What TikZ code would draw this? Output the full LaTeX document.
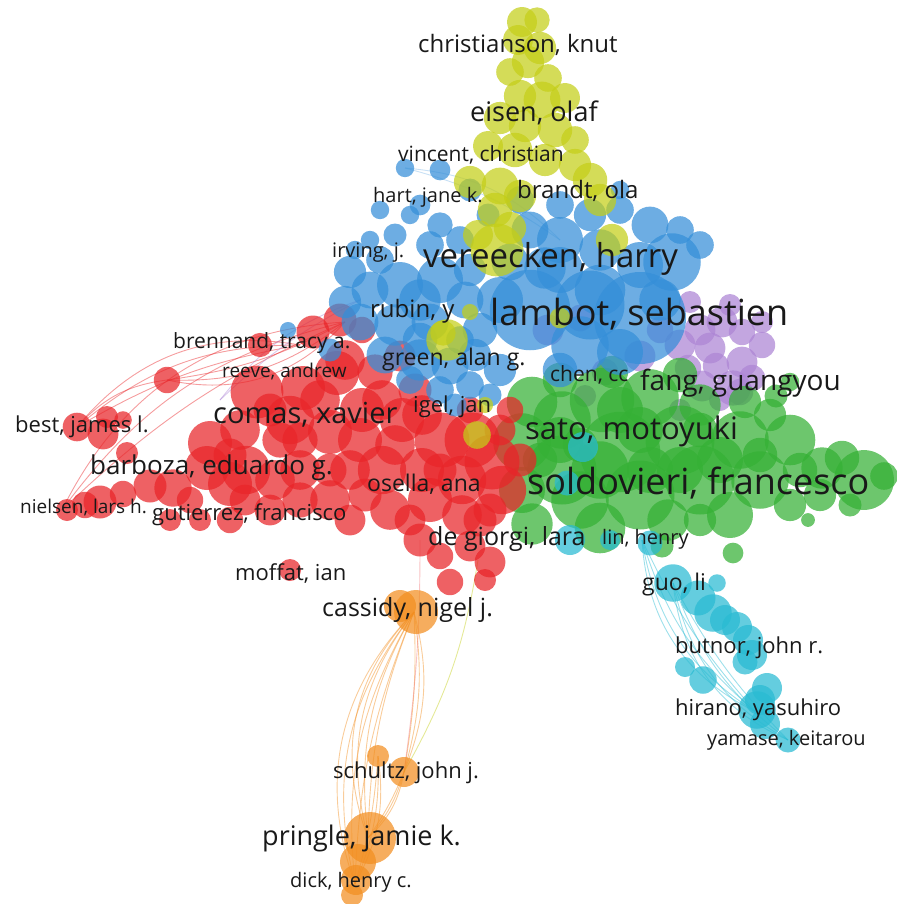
\documentclass[tikz,border=0pt]{standalone}
\usepackage{fontspec}
\setmainfont{Open Sans}
\usepackage{tikz}
\usetikzlibrary{positioning,calc}

\definecolor{vosred}{RGB}{232,36,40}
\definecolor{vosgreen}{RGB}{52,176,52}
\definecolor{vosblue}{RGB}{52,142,216}
\definecolor{vosyellow}{RGB}{196,206,24}
\definecolor{vospurple}{RGB}{172,132,212}
\definecolor{vosorange}{RGB}{242,142,32}
\definecolor{voscyan}{RGB}{40,186,210}

\begin{document}
\begin{tikzpicture}[
    x=1pt, y=-1pt,
    bub/.style={fill=#1, fill opacity=0.72},
    link/.style={draw=#1, draw opacity=0.45, line width=0.9pt},
    lbl/.style={anchor=west, inner sep=0pt, text=black!90, font=\fontsize{#1}{#1}\selectfont}
]
\useasboundingbox (0,0) rectangle (896,904);

% anchor points for the links
\coordinate (cassidyc) at (414,612);
\coordinate (schultzc) at (404,772);
\coordinate (schultzb) at (378,756);
\coordinate (pringlec) at (368,838);
\coordinate (dickc) at (355,884);
\coordinate (linc) at (642,540);
\coordinate (guoc) at (673,583);
\coordinate (hiranoc) at (756,712);
\coordinate (yamasec) at (788,740);
\coordinate (brennc) at (167,380);
\coordinate (bestc) at (77,427);
\coordinate (nielsc) at (62,510);
\coordinate (reevec) at (300,345);
\coordinate (redtop) at (345,322);
\coordinate (degc) at (420,540);
\coordinate (redlow) at (478,560);

% links
\foreach \b in {10,18,26,32} {
  \draw[link=vosorange] (cassidyc) to[bend right=\b] (pringlec);
  \draw[link=vosorange] (cassidyc) to[bend right=\b] (dickc);
}
\foreach \b in {6,12,18} {
  \draw[link=vosorange] (cassidyc) to[bend left=\b] (schultzc);
  \draw[link=vosorange] (schultzc) to[bend left=\b] (pringlec);
  \draw[link=vosorange] (schultzb) to[bend left=\b] (dickc);
}
\draw[link=vosred!60] (degc) to[bend left=4] (schultzc);
\draw[link=vosyellow] (redlow) to[bend left=10] (schultzc);
\foreach \b in {8,16,24,30} {
  \draw[link=voscyan] (linc) to[bend right=\b] (hiranoc);
  \draw[link=voscyan] (guoc) to[bend right=\b] (yamasec);
}
\foreach \b in {10,20,30} {
  \draw[link=vosred] (brennc) to[bend right=\b] (redtop);
  \draw[link=vosred] (bestc) to[bend left=\b] (reevec);
  \draw[link=vosred] (nielsc) to[bend left=\b] (redtop);
}
\draw[link=vosred] (brennc) to[bend right=20] (bestc);
\foreach \b in {8,16} \draw[link=vospurple] (220,400) to[bend left=\b] (360,300);
\foreach \b in {10,20} \draw[link=vosblue!60] (405,168) to[bend left=\b] (560,240);

% Purple cluster
\foreach \x/\y/\r [evaluate=\r as \rr using 1.1*\r] in {605/372/12, 640/356/14, 680/345/14,
  700/330/14, 722/322/14, 742/332/12, 762/322/10, 762/345/12, 742/362/14, 716/366/12,
  740/392/12, 702/386/14, 733/388/16, 690/302/10, 730/305/10, 585/396/10, 680/410/10,
  548/330/14, 580/318/12, 660/330/12, 710/348/14, 752/378/12, 720/400/10, 688/368/12}
  \fill[bub=vospurple] (\x,\y) circle (\rr pt);

% Green cluster
\foreach \x/\y/\r [evaluate=\r as \rr using 1.15*\r] in {532/402/22, 522/442/25, 562/420/25,
  602/400/28, 650/398/25, 700/405/18, 745/402/14, 770/415/14, 562/470/30, 620/452/35,
  680/440/30, 740/440/25, 790/440/22, 822/468/18, 864/480/26, 884/476/12, 842/458/15,
  700/480/30, 640/495/30, 760/480/25, 580/500/25, 522/490/20, 532/524/18, 600/528/22,
  668/520/18, 730/515/20, 790/505/14, 808/520/6, 733/553/9, 662/546/10, 790/382/8,
  776/396/10, 560/380/15, 612/372/14, 680/375/15, 820/495/14, 850/505/10, 700/520/14,
  560/440/20, 640/430/20, 720/460/20, 600/470/25, 680/470/20, 760/455/15, 800/470/15,
  540/460/15, 620/410/20, 700/430/15, 650/470/20, 580/445/15}
  \fill[bub=vosgreen] (\x,\y) circle (\rr pt);

% Red cluster
\foreach \x/\y/\r [evaluate=\r as \rr using 1.1*\r] in {167/380/12, 77/427/13, 107/417/10,
  103/434/14, 123/420/8, 127/453/10, 67/510/10, 100/502/15, 123/494/12, 150/486/15,
  173/488/17, 207/468/20, 210/443/20, 230/484/20, 246/470/22, 275/480/18, 300/470/18,
  240/430/18, 257/392/24, 303/388/20, 337/373/20, 260/345/11, 313/332/15, 340/320/15,
  362/330/12, 290/420/22, 330/432/20, 362/410/20, 382/400/18, 402/420/20, 422/415/18,
  442/440/25, 472/440/25, 492/462/25, 462/480/22, 502/490/22, 422/470/20, 382/470/22,
  350/470/18, 330/500/18, 300/500/16, 270/510/14, 350/520/14, 390/510/18, 430/500/20,
  462/515/18, 490/510/15, 420/540/15, 440/556/12, 470/546/14, 490/562/14, 450/582/12,
  290/570/10, 230/520/12, 200/520/10, 170/520/10, 345/360/18, 375/372/16, 400/356/14,
  415/390/15, 470/410/12, 500/430/14, 280/440/16, 190/500/12, 485/580/10, 320/400/18,
  360/440/20, 395/445/18, 270/410/15, 230/455/15, 300/440/16, 440/470/15, 480/520/15,
  410/520/14, 520/460/15, 365/495/15, 245/500/14, 330/470/15, 510/410/12, 85/505/12}
  \fill[bub=vosred] (\x,\y) circle (\rr pt);

% Cyan cluster
\foreach \x/\y/\r [evaluate=\r as \rr using 1.25*\r] in {583/447/12, 567/483/10, 570/540/12,
  650/543/10, 673/583/15, 698/598/14, 713/613/15, 737/627/12, 748/640/12, 752/655/12,
  767/688/12, 757/710/15, 765/724/12, 788/740/10, 685/667/8, 703/680/11, 717/583/7,
  610/540/8, 725/620/12, 760/700/12, 745/662/10}
  \fill[bub=voscyan] (\x,\y) circle (\rr pt);

% Blue cluster
\foreach \x/\y/\r [evaluate=\r as \rr using 1.15*\r] in {405/168/8, 440/170/9, 470/190/10,
  420/205/9, 440/225/11, 410/215/8, 395/235/10, 430/245/12, 460/240/12, 380/260/12,
  350/272/14, 370/290/16, 345/302/14, 400/285/20, 440/280/20, 465/300/16, 360/322/16,
  395/325/18, 430/322/16, 385/355/16, 420/360/18, 450/366/16, 475/355/14, 410/380/12,
  440/390/12, 470/385/12, 500/370/14, 455/405/10, 490/395/10, 560/205/12, 590/215/14,
  620/210/12, 650/225/16, 672/262/25, 640/265/20, 600/250/18, 560/240/20, 530/230/16,
  600/290/22, 530/310/35, 640/318/40, 590/305/30, 500/300/20, 620/352/20, 580/345/25,
  560/370/15, 700/245/12, 510/262/16, 545/268/18, 288/330/7, 330/350/10, 488/215/10,
  620/190/8, 480/330/15, 420/300/18, 470/270/14, 560/270/20, 520/200/12, 660/300/18,
  680/230/12, 420/340/15, 460/340/12, 370/240/8, 380/210/8, 355/250/8}
  \fill[bub=vosblue] (\x,\y) circle (\rr pt);

% Yellow cluster
\foreach \x/\y/\r [evaluate=\r as \rr using 1.15*\r] in {522/22/13, 537/20/11, 518/40/13,
  540/48/14, 528/62/14, 510/72/12, 548/78/12, 520/96/14, 542/100/16, 565/98/13, 500/118/14,
  525/126/14, 555/130/15, 575/140/12, 488/146/13, 515/150/15, 545/160/14, 575/165/14,
  590/180/15, 600/200/14, 470/182/14, 500/186/16, 520/196/14, 495/210/15, 510/228/14,
  478/235/13, 497/250/23, 447/340/18, 443/333/11, 612/240/14, 485/405/7, 477/435/12,
  560/318/9, 470/312/7}
  \fill[bub=vosyellow] (\x,\y) circle (\rr pt);

% Orange cluster
\foreach \x/\y/\r in {416/612/22, 400/606/16, 378/756/11, 404/772/15, 370/838/26, 358/862/18,
  356/880/15, 352/895/11}
  \fill[bub=vosorange] (\x,\y) circle (\r pt);

% author labels
\node[lbl=24] (christianson) at (418,45) {christianson, knut};
\node[lbl=27] (eisen) at (470,113) {eisen, olaf};
\node[lbl=21] (vincent) at (398,155) {vincent, christian};
\node[lbl=20] (hart) at (373,197) {hart, jane k.};
\node[lbl=24] (brandt) at (517,191) {brandt, ola};
\node[lbl=20] (irving) at (332,253) {irving, j.};
\node[lbl=33] (vereecken) at (423,259) {vereecken, harry};
\node[lbl=36] (lambot) at (490,314) {lambot, sebastien};
\node[lbl=24] (rubin) at (370,311) {rubin, y};
\node[lbl=23] (green) at (382,360) {green, alan g.};
\node[lbl=21] (chen) at (550,375) {chen, cc};
\node[lbl=28] (fang) at (640,383) {fang, guangyou};
\node[lbl=22] (igel) at (413,407) {igel, jan};
\node[lbl=31] (sato) at (525,431) {sato, motoyuki};
\node[lbl=36] (soldovieri) at (527,483) {soldovieri, francesco};
\node[lbl=23] (osella) at (367,484) {osella, ana};
\node[lbl=25] (degiorgi) at (428,539) {de giorgi, lara};
\node[lbl=20] (lin) at (602,539) {lin, henry};
\node[lbl=21] (brennand) at (173,343) {brennand, tracy a.};
\node[lbl=19] (reeve) at (222,372) {reeve, andrew};
\node[lbl=29] (comas) at (213,415) {comas, xavier};
\node[lbl=22] (best) at (15,427) {best, james l.};
\node[lbl=26] (barboza) at (90,468) {barboza, eduardo g.};
\node[lbl=19] (nielsen) at (20,508) {nielsen, lars h.};
\node[lbl=22] (gutierrez) at (152,515) {gutierrez, francisco};
\node[lbl=22] (moffat) at (235,573) {moffat, ian};
\node[lbl=25] (cassidy) at (322,610) {cassidy, nigel j.};
\node[lbl=22] (schultz) at (333,773) {schultz, john j.};
\node[lbl=27] (pringle) at (262,838) {pringle, jamie k.};
\node[lbl=20] (dick) at (290,882) {dick, henry c.};
\node[lbl=23] (guo) at (642,585) {guo, li};
\node[lbl=22] (butnor) at (675,648) {butnor, john r.};
\node[lbl=22] (hirano) at (675,710) {hirano, yasuhiro};
\node[lbl=20] (yamase) at (707,740) {yamase, keitarou};

\end{tikzpicture}
\end{document}
